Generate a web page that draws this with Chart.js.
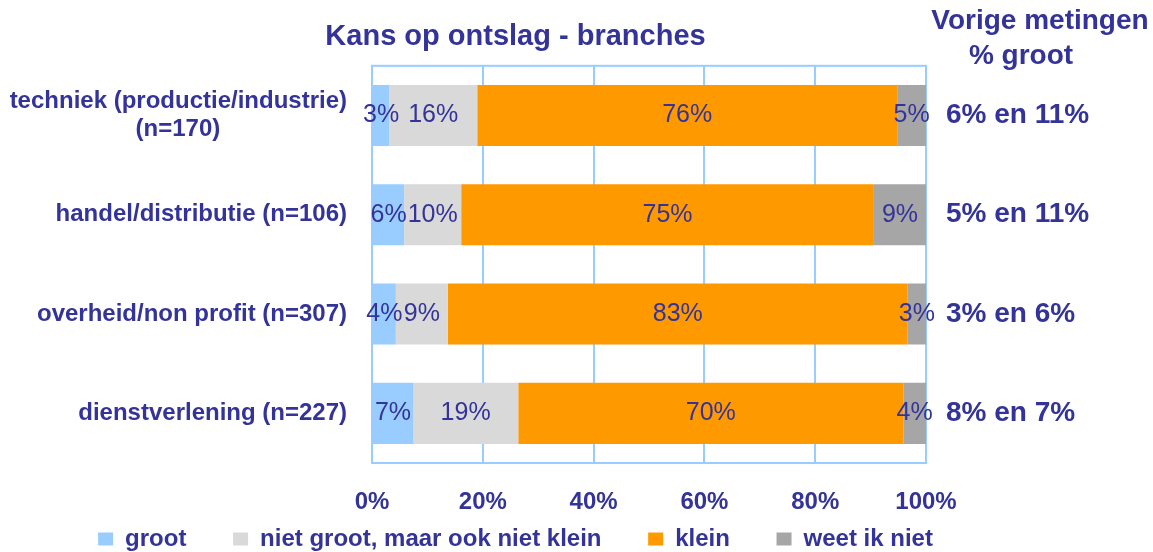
<!DOCTYPE html>
<html>
<head>
<meta charset="utf-8">
<script src="https://cdn.jsdelivr.net/npm/chart.js@4.4.1/dist/chart.umd.min.js"></script>
<style>
  html, body { margin: 0; padding: 0; background: #ffffff; }
  canvas { display: block; }
</style>
</head>
<body>
<canvas id="myChart" width="1153" height="552"></canvas>
<script>
// categories (second line of the first label padded so it sits centred under the first)
const branches = [
  ['techniek (productie/industrie)', '(n=170)' + ' '.repeat(19)],
  'handel/distributie (n=106)',
  'overheid/non profit (n=307)',
  'dienstverlening (n=227)'
]
const vorigeMetingen = ['6% en 11%', '5% en 11%', '3% en 6%', '8% en 7%']

// shares per answer, in %
const groot = [3.1, 5.8, 4.3, 7.4]
const nietGroot = [15.9, 10.3, 9.4, 19.0]
const klein = [75.8, 74.5, 83.0, 69.5]
const weetIkNiet = [5.2, 9.4, 3.3, 4.1]

const xTicks = [0, 20, 40, 60, 80, 100]

const navy = '#333399'
const lineBlue = '#99CCFF'
const fam = '"Liberation Sans", Arial, sans-serif'

Chart.defaults.font.family = fam

// light blue frame round the plot
const frame = {
  id: 'frame',
  beforeDatasetsDraw(chart) {
    const a = chart.chartArea, ctx = chart.ctx
    ctx.save()
    ctx.strokeStyle = lineBlue
    ctx.lineWidth = 2
    ctx.strokeRect(a.left, a.top, a.right - a.left, a.bottom - a.top)
    ctx.restore()
  }
}

// percentages inside the bars, previous measurements and header on the right
const texts = {
  id: 'texts',
  beforeLayout(chart) {
    const lg = chart.legend
    if (lg && !lg._fixed) {
      const fit = lg.fit
      lg.fit = function() { fit.call(this); this.height = 34 }
      lg._fixed = true
    }
  },
  afterDatasetsDraw(chart) {
    const ctx = chart.ctx
    ctx.save()
    ctx.font = '25px ' + fam
    ctx.fillStyle = navy
    ctx.textAlign = 'center'
    ctx.textBaseline = 'middle'
    chart.data.datasets.forEach(function(ds, i) {
      chart.getDatasetMeta(i).data.forEach(function(bar, j) {
        ctx.fillText(Math.round(ds.data[j]) + '%', (bar.x + bar.base) / 2, bar.y)
      })
    })
    const yr = chart.scales.yRight
    ctx.font = 'bold 28px ' + fam
    ctx.textAlign = 'left'
    vorigeMetingen.forEach(function(t, i) {
      ctx.fillText(t, yr.left + 20, yr.getPixelForValue(i))
    })
    ctx.textAlign = 'center'
    ctx.textBaseline = 'alphabetic'
    ctx.fillText('Vorige metingen', 1040, 29)
    ctx.fillText('% groot', 1021, 64)
    ctx.restore()
  }
}

const config = {
  type: 'bar',
  data: {
    labels: branches,
    datasets: [
      { label: 'groot', data: groot, backgroundColor: '#99CCFF' },
      { label: 'niet groot, maar ook niet klein', data: nietGroot, backgroundColor: '#D9D9D9' },
      { label: 'klein', data: klein, backgroundColor: '#FF9900' },
      { label: 'weet ik niet', data: weetIkNiet, backgroundColor: '#A6A6A6' }
    ]
  },
  options: {
    indexAxis: 'y',
    responsive: false,
    animation: false,
    devicePixelRatio: 1,
    layout: { padding: { left: 0, right: 122, top: 0, bottom: -9 } },
    datasets: { bar: { barPercentage: 0.615, categoryPercentage: 1 } },
    scales: {
      x: {
        stacked: true,
        min: 0,
        max: 100,
        afterBuildTicks(s) { s.ticks = xTicks.map(v => ({ value: v })) },
        afterFit(s) { s.height = 64 },
        grid: { color: lineBlue, lineWidth: 2, drawTicks: false },
        border: { display: false },
        ticks: {
          padding: 25,
          color: navy,
          font: { size: 24, weight: 'bold' },
          callback: v => v + '%'
        }
      },
      y: {
        stacked: true,
        afterFit(s) { s.width = 372 },
        grid: { display: false, drawTicks: false },
        border: { display: false },
        ticks: { padding: 25, color: navy, font: { size: 24, weight: 'bold' } }
      },
      yRight: {
        type: 'category',
        labels: vorigeMetingen,
        position: 'right',
        offset: true,
        afterFit(s) { s.width = 105 },
        grid: { display: false, drawTicks: false },
        border: { display: false },
        ticks: { display: false }
      }
    },
    plugins: {
      title: {
        display: true,
        text: 'Kans op ontslag - branches',
        color: navy,
        font: { size: 29, weight: 'bold' },
        padding: { top: 20, bottom: 11 }
      },
      legend: {
        position: 'bottom',
        labels: {
          padding: 0,
          boxWidth: 15,
          boxHeight: 13,
          color: navy,
          font: { size: 24, weight: 'bold' },
          generateLabels(chart) {
            const items = Chart.defaults.plugins.legend.labels.generateLabels(chart)
            items.forEach(function(it, i) {
              if (i < items.length - 1) it.text = it.text + ' '.repeat(7)
            })
            return items
          }
        }
      },
      tooltip: { enabled: false }
    }
  },
  plugins: [frame, texts]
}

var myChart = new Chart(document.getElementById('myChart'), config)
</script>
</body>
</html>
